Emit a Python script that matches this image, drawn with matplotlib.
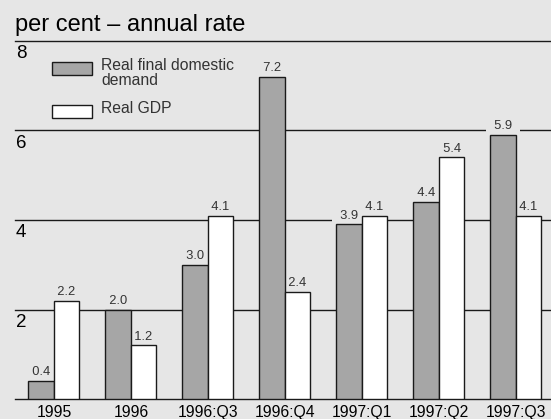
import matplotlib
matplotlib.use('Agg')
import matplotlib.pyplot as plt
from matplotlib.patches import Rectangle
import numpy as np

plt.rcParams['font.family'] = ['Liberation Sans', 'DejaVu Sans']

periods = ["1995", "1996", "1996:Q3", "1996:Q4", "1997:Q1", "1997:Q2", "1997:Q3"]
domestic_demand = [0.4, 2.0, 3.0, 7.2, 3.9, 4.4, 5.9]
real_gdp = [2.2, 1.2, 4.1, 2.4, 4.1, 5.4, 4.1]
y_ticks = [2, 4, 6, 8]

bg = "#e6e6e6"
grey = "#a6a6a6"
line_col = "#1a1a1a"

fig = plt.figure(figsize=(5.51, 4.19), dpi=100, facecolor=bg)
ax = fig.add_axes([15 / 551, 20 / 419, 536 / 551, 358 / 419])
ax.set_facecolor(bg)

x = np.arange(len(periods))
w = 0.331

# gridlines behind the bars
for v in [0] + y_ticks:
    ax.axhline(v, color=line_col, lw=1.0, zorder=1, clip_on=False)

ax.bar(x - w, domestic_demand, w, align='edge', color=grey,
       edgecolor=line_col, linewidth=1.0, zorder=3)
ax.bar(x, real_gdp, w, align='edge', color="white",
       edgecolor=line_col, linewidth=1.0, zorder=3)

# value labels (background box hides the gridline where they overlap)
for xs, vals in [(x - w / 2, domestic_demand), (x + w / 2, real_gdp)]:
    for xi, v in zip(xs, vals):
        ax.annotate(f"  {v:.1f}  ", (xi, v), xytext=(0, 2), textcoords='offset points',
                    ha='center', va='bottom', fontsize=9.3, color="#333333", zorder=2,
                    bbox=dict(boxstyle='square,pad=0.05', fc=bg, ec='none'))

# y labels sit just under their gridline
for v in y_ticks:
    ax.annotate(str(v), (0, v), xycoords=ax.get_yaxis_transform(),
                xytext=(0.5, -3), textcoords='offset points',
                ha='left', va='top', fontsize=13.5)

ax.set_xlim(-0.506, 6.455)
ax.set_ylim(0, 8)
ax.set_xticks(x)
ax.set_xticklabels(periods, fontsize=11.3)
ax.tick_params(axis='x', length=0, pad=4)
ax.set_yticks([])
for s in ax.spines.values():
    s.set_visible(False)

# legend
ax.add_patch(Rectangle((0.0696, 0.905), 0.0746, 0.0355, transform=ax.transAxes,
                       fc=grey, ec=line_col, lw=1.0, clip_on=False))
ax.add_patch(Rectangle((0.0696, 0.786), 0.0746, 0.0355, transform=ax.transAxes,
                       fc="white", ec=line_col, lw=1.0, clip_on=False))
ax.text(0.1604, 0.919, "Real final domestic", transform=ax.transAxes,
        ha='left', va='baseline', fontsize=11.3, color="#333333")
ax.text(0.1604, 0.877, "demand", transform=ax.transAxes,
        ha='left', va='baseline', fontsize=11.3, color="#333333")
ax.text(0.1604, 0.798, "Real GDP", transform=ax.transAxes,
        ha='left', va='baseline', fontsize=11.3, color="#333333")

fig.text(15 / 551, 1 - 31 / 419, "per cent \u2013 annual rate", ha='left', va='baseline',
         fontsize=17)

fig.savefig("out.png", dpi=100, facecolor=bg)
